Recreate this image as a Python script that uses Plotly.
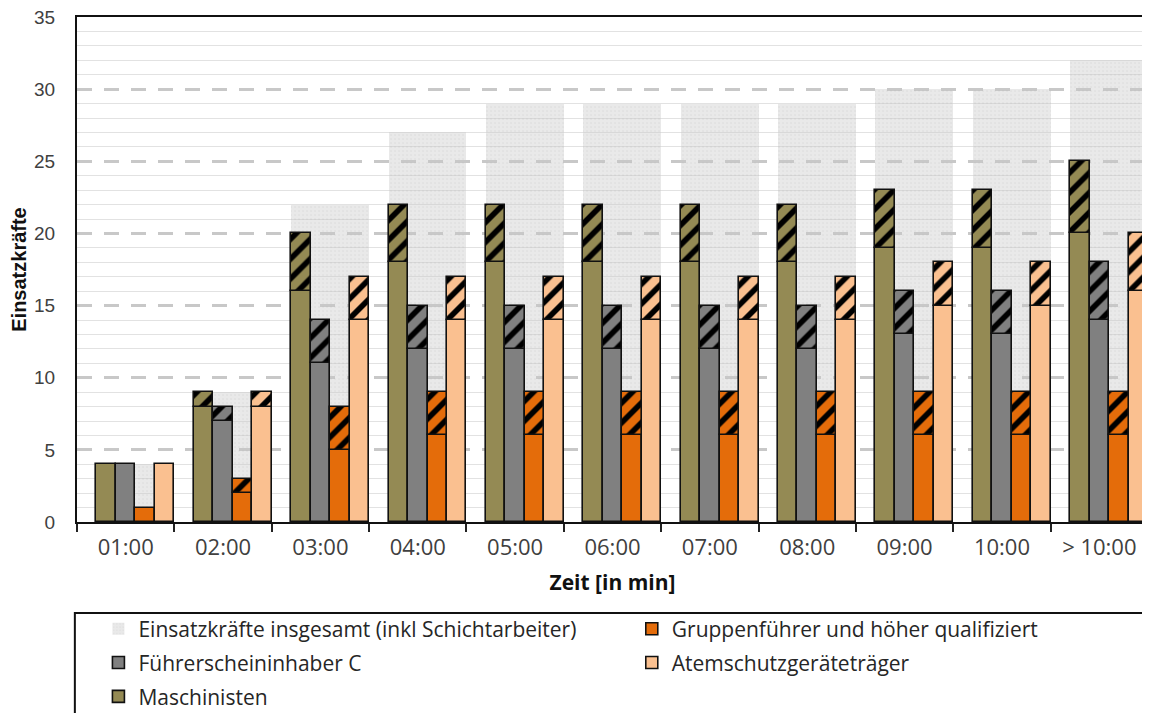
"""Einsatzkräfte nach Zeit - gruppierte Balken mit schraffiertem Zuwachs."""

import plotly.graph_objects as go

zeit = ["01:00", "02:00", "03:00", "04:00", "05:00", "06:00", "07:00", "08:00", "09:00", "10:00", "> 10:00"]

gesamt = [4, 9, 22, 27, 29, 29, 29, 29, 30, 30, 32]

masch_basis = [4, 8, 16, 18, 18, 18, 18, 18, 19, 19, 20]
masch_max = [4, 9, 20, 22, 22, 22, 22, 22, 23, 23, 25]

fuehrer_basis = [4, 7, 11, 12, 12, 12, 12, 12, 13, 13, 14]
fuehrer_max = [4, 8, 14, 15, 15, 15, 15, 15, 16, 16, 18]

gruppe_basis = [1, 2, 5, 6, 6, 6, 6, 6, 6, 6, 6]
gruppe_max = [1, 3, 8, 9, 9, 9, 9, 9, 9, 9, 9]

atem_basis = [4, 8, 14, 14, 14, 14, 14, 14, 15, 15, 16]
atem_max = [4, 9, 17, 17, 17, 17, 17, 17, 18, 18, 20]

_C = {
    "masch": "#948A54",
    "fuehrer": "#808080",
    "gruppe": "#E46C0A",
    "atem": "#FAC090",
}
_OUTLINE = dict(color="#111111", width=1.6)
_TICK_FONT = dict(family="Open Sans", size=22, color="#404040")

# name, basis, max, farbe, offset, legende
serien = [
    ("Maschinisten", masch_basis, masch_max, _C["masch"], -0.3, "legend5"),
    ("Führerscheininhaber C", fuehrer_basis, fuehrer_max, _C["fuehrer"], -0.1, "legend3"),
    ("Gruppenführer und höher qualifiziert", gruppe_basis, gruppe_max, _C["gruppe"], 0.1, "legend2"),
    ("Atemschutzgeräteträger", atem_basis, atem_max, _C["atem"], 0.3, "legend4"),
]

fig = go.Figure()

# Hintergrund: alle Einsatzkräfte
fig.add_trace(
    go.Bar(
        x=zeit,
        y=gesamt,
        name="Einsatzkräfte insgesamt (inkl Schichtarbeiter)",
        offset=-0.3,
        width=0.8,
        marker=dict(
            color="rgba(200,200,200,0.4)",
            line=dict(width=0),
            pattern=dict(shape=".", fgcolor="rgba(170,170,170,0.35)", size=4, solidity=0.15, fillmode="overlay"),
        ),
        legend="legend",
    )
)

for name, basis, top, color, off, leg in serien:
    fig.add_trace(
        go.Bar(
            x=zeit,
            y=basis,
            name=name,
            offset=off,
            width=0.2,
            marker=dict(color=color, line=_OUTLINE),
            legend=leg,
        )
    )

for name, basis, top, color, off, leg in serien:
    plus = [t - b if t > b else None for b, t in zip(basis, top)]
    fig.add_trace(
        go.Bar(
            x=zeit,
            y=plus,
            base=basis,
            name=name + " (max)",
            offset=off,
            width=0.2,
            showlegend=False,
            marker=dict(
                color=color,
                line=_OUTLINE,
                pattern=dict(shape="/", fgcolor="#000000", fgopacity=1, size=14, solidity=0.4, fillmode="overlay"),
            ),
        )
    )

legend_common = dict(
    orientation="h",
    xanchor="left",
    yanchor="middle",
    font=dict(family="Open Sans", size=21, color="#262626"),
    bgcolor="rgba(0,0,0,0)",
    borderwidth=0,
)
col1, col2 = 0.02, 0.518
row1, row2, row3 = -0.212, -0.279, -0.346

# page body has an 8px margin, so the figure is 8px smaller and shifted
fig.update_layout(
    width=1142,
    height=705,
    barmode="overlay",
    bargap=0,
    plot_bgcolor="white",
    paper_bgcolor="white",
    margin=dict(l=69, r=2, t=9, b=191, autoexpand=False),
    legend=dict(legend_common, x=col1, y=row1),
    legend2=dict(legend_common, x=col2, y=row1),
    legend3=dict(legend_common, x=col1, y=row2),
    legend4=dict(legend_common, x=col2, y=row2),
    legend5=dict(legend_common, x=col1, y=row3),
    xaxis=dict(
        type="category",
        range=[-0.5, 10.5],
        showline=True,
        linecolor="#111111",
        linewidth=2,
        mirror=True,
        ticks="outside",
        tickson="boundaries",
        ticklen=8,
        tickwidth=2,
        tickcolor="#222222",
        tickfont=_TICK_FONT,
        ticklabelstandoff=5,
        showgrid=False,
        title=dict(text="<b>Zeit [in min]</b>", font=dict(family="Open Sans", size=21, color="#111111"), standoff=15),
    ),
    yaxis=dict(
        range=[0, 35],
        dtick=5,
        showline=True,
        linecolor="#111111",
        linewidth=2,
        mirror=True,
        zeroline=False,
        gridcolor="#C8C8C8",
        gridwidth=3,
        griddash="15px,12px",
        minor=dict(dtick=1, showgrid=True, gridcolor="#E2E2E2", gridwidth=1, griddash="solid"),
        tickfont=dict(family="Liberation Sans", size=19, color="#404040"),
        ticklabelstandoff=16,
        ticklabeloverflow="allow",
        title=dict(text="<b>Einsatzkräfte</b>", font=dict(family="Liberation Sans", size=20, color="#111111"), standoff=6),
    ),
    shapes=[
        dict(
            type="rect",
            xref="paper",
            yref="paper",
            x0=-0.002,
            x1=1.05,
            y0=-0.18,
            y1=-0.5,
            line=dict(color="#111111", width=2),
            fillcolor="rgba(0,0,0,0)",
            layer="below",
        )
    ],
)

fig.write_html("out.html")
